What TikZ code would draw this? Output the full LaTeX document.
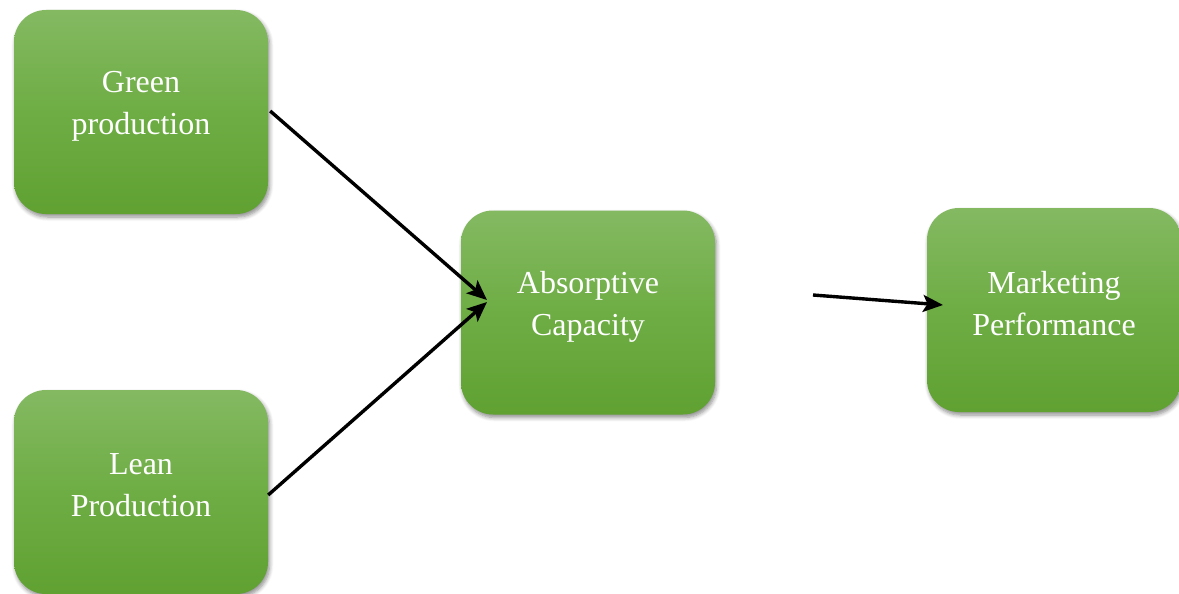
\documentclass[tikz,border=0pt]{standalone}
\usepackage{fontspec}
\setmainfont{Liberation Serif}
\usetikzlibrary{arrows.meta,shadows.blur}
\begin{document}
\begin{tikzpicture}[x=1pt,y=-1pt,
  gbox/.style={draw=none,rounded corners=32pt,minimum width=254pt,minimum height=204pt,
    inner sep=0pt,top color=gtop,bottom color=gbot,middle color=gmid,
    blur shadow={shadow xshift=1.5pt,shadow yshift=-3pt,shadow blur radius=4pt,shadow blur steps=6,shadow opacity=45}},
  gtxt/.style={text=white,align=center,font=\fontsize{32}{42}\selectfont,inner sep=0pt},
  arr/.style={line width=3.4pt,-{Stealth[length=20pt,width=17pt,inset=4.5pt]}}]
\definecolor{gtop}{HTML}{84B962}
\definecolor{gmid}{HTML}{6EAD44}
\definecolor{gbot}{HTML}{60A132}
\useasboundingbox (0,0) rectangle (1179,594);
\node[gbox] (gp) at (141,112) {};
\node[gbox] (lp) at (141,492) {};
\node[gbox] (ac) at (588,312.5) {};
\node[gbox] (mp) at (1054,310) {};
\node[gtxt] (gpt) at (141,106) {Green\\production};
\node[gtxt] (lpt) at (141,485) {Lean\\Production};
\node[gtxt] (act) at (588,307) {Absorptive\\Capacity};
\node[gtxt] (mpt) at (1054,304) {Marketing\\Performance};
\coordinate (acin) at (487,300);
\coordinate (acin2) at (487,302);
\coordinate (mpstart) at (813,295);
\coordinate (mpin) at (943,305);
\draw[arr] (gp.east) ++(2,-1) -- (acin);
\draw[arr] (lp.east) ++(0,3) -- (acin2);
\draw[arr] (mpstart) -- (mpin);
\end{tikzpicture}
\end{document}
